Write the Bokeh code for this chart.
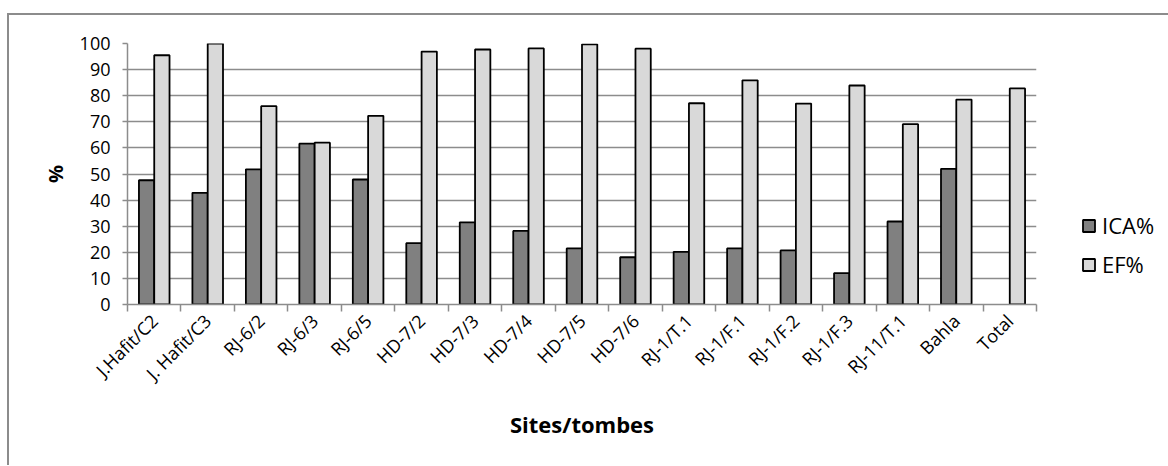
import numpy as np
from bokeh.plotting import figure
from bokeh.models import (ColumnDataSource, Range1d, FixedTicker, Legend, LegendItem)
from bokeh.transform import dodge
from bokeh.embed import file_html
from bokeh.resources import INLINE

sites = ["J.Hafit/C2", "J. Hafit/C3", "RJ-6/2", "RJ-6/3", "RJ-6/5", "HD-7/2", "HD-7/3",
         "HD-7/4", "HD-7/5", "HD-7/6", "RJ-1/T.1", "RJ-1/F.1", "RJ-1/F.2", "RJ-1/F.3",
         "RJ-11/T.1", "Bahla", "Total"]
ica = [47.6, 42.8, 51.8, 61.6, 47.9, 23.5, 31.5, 28.2, 21.5, 18.1, 20.2, 21.5, 20.7,
       12.0, 31.8, 52.0, float("nan")]
ef = [95.5, 100.0, 76.0, 62.0, 72.3, 96.9, 97.7, 98.1, 99.7, 98.0, 77.1, 85.9, 77.0,
      83.9, 69.1, 78.5, 82.8]
y_ticks = [0, 10, 20, 30, 40, 50, 60, 70, 80, 90, 100]

FONT = "Open Sans"
GRID = "#8c8c8c"

n = len(sites)
centers = np.arange(n) + 0.5
src = ColumnDataSource(dict(x=centers, ica=np.array(ica, dtype=float), ef=np.array(ef, dtype=float)))

p = figure(frame_width=909, frame_height=261, output_backend="svg", toolbar_location=None,
           x_range=Range1d(0, n), y_range=Range1d(0, 100),
           min_border_left=118, min_border_right=130, min_border_top=28, min_border_bottom=161)
p.outline_line_color = None
p.background_fill_color = "white"
p.border_fill_color = "white"
p.styles = {"position": "relative", "left": "7px", "top": "13px",
            "border-top": "2px solid #8c8c8c", "border-left": "2px solid #8c8c8c"}

bw = 0.286
r1 = p.vbar(x=dodge("x", -bw / 2), top="ica", bottom=0, width=bw, source=src,
            fill_color="#808080", line_color="black", line_width=1.8)
r2 = p.vbar(x=dodge("x", bw / 2), top="ef", bottom=0, width=bw, source=src,
            fill_color="#d9d9d9", line_color="black", line_width=1.8)

# x axis
xa = p.xaxis[0]
xa.ticker = FixedTicker(ticks=list(centers), minor_ticks=list(range(n + 1)))
xa.major_label_overrides = {float(c): s for c, s in zip(centers, sites)}
xa.major_label_orientation = np.pi / 4
xa.major_tick_out = 0
xa.major_tick_in = 0
xa.minor_tick_out = 7
xa.minor_tick_in = 0
xa.minor_tick_line_color = GRID
xa.minor_tick_line_width = 1.5
xa.axis_line_color = GRID
xa.axis_line_width = 1.5
xa.major_label_text_font = FONT
xa.major_label_text_font_size = "18px"
xa.major_label_text_color = "black"
xa.major_label_standoff = 6
xa.axis_label = "Sites/tombes"
xa.axis_label_text_font = FONT
xa.axis_label_text_font_style = "bold"
xa.axis_label_text_font_size = "22px"
xa.axis_label_text_color = "black"
xa.axis_label_standoff = 13

# y axis
ya = p.yaxis[0]
ya.ticker = FixedTicker(ticks=y_ticks)
ya.major_tick_out = 5
ya.major_tick_in = 0
ya.minor_tick_out = 0
ya.minor_tick_in = 0
ya.major_tick_line_color = GRID
ya.major_tick_line_width = 1.5
ya.axis_line_color = GRID
ya.axis_line_width = 1.5
ya.major_label_text_font = FONT
ya.major_label_text_font_size = "18px"
ya.major_label_text_color = "black"
ya.major_label_standoff = 12
ya.axis_label = "%"
ya.axis_label_text_font = FONT
ya.axis_label_text_font_style = "bold"
ya.axis_label_text_font_size = "20px"
ya.axis_label_text_color = "black"
ya.axis_label_standoff = 8

p.xgrid.grid_line_color = None
p.ygrid.ticker = FixedTicker(ticks=y_ticks)
p.ygrid.grid_line_color = GRID
p.ygrid.grid_line_width = 1.5
p.ygrid.level = "underlay"

legend = Legend(items=[LegendItem(label="ICA%", renderers=[r1]),
                       LegendItem(label="EF%", renderers=[r2])],
                location=(45, 25))
legend.border_line_color = None
legend.background_fill_alpha = 0
legend.padding = 0
legend.margin = 0
legend.spacing = 9
legend.glyph_width = 15
legend.glyph_height = 15
legend.label_height = 30
legend.label_standoff = 6
legend.label_text_font = FONT
legend.label_text_font_size = "22px"
legend.label_text_color = "black"
p.add_layout(legend, "right")

open("out.html", "w").write(file_html(p, INLINE))
